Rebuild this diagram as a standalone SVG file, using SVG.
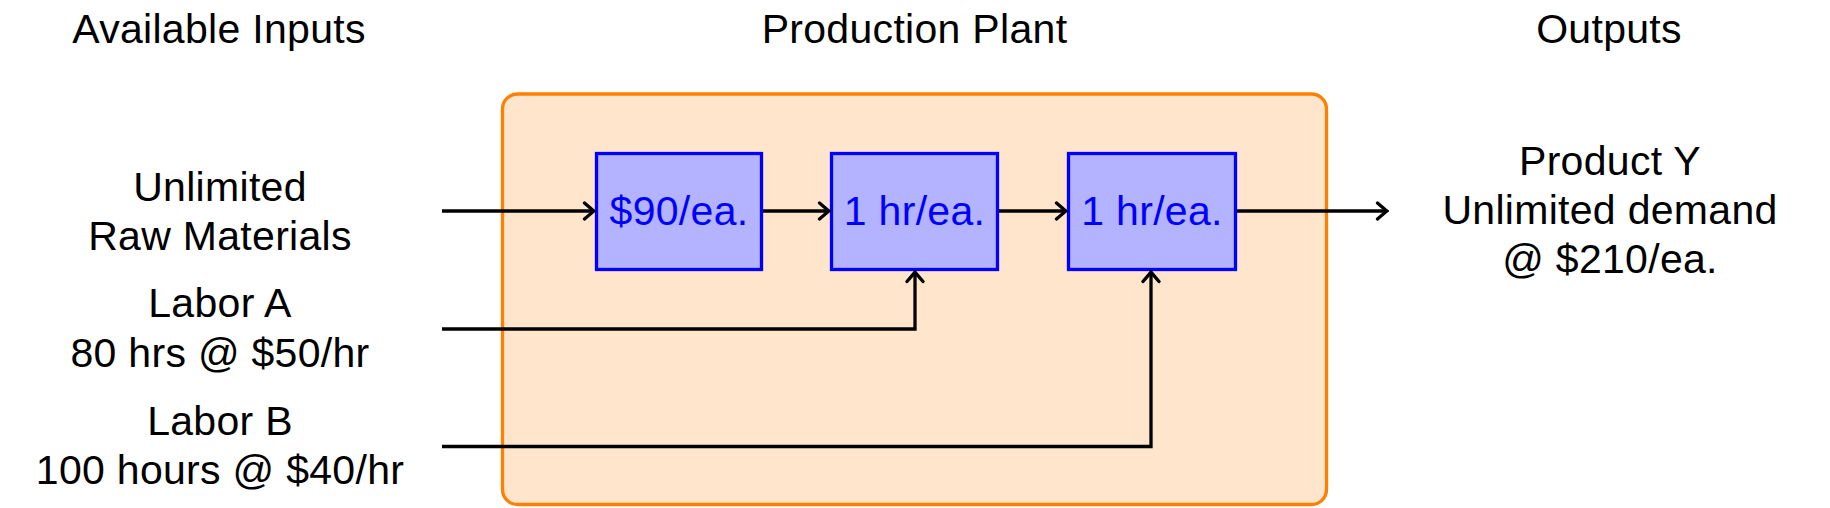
<svg xmlns="http://www.w3.org/2000/svg" width="1830" height="508" viewBox="0 0 1830 508">
<style>
text{font-family:"Liberation Sans",Arial,sans-serif;font-size:41px;letter-spacing:0.3px;text-anchor:middle;fill:#000}
.box rect{fill:#B3B3FF;stroke:#0000FF;stroke-width:3.3}
.box text{fill:#0000FF}
.conn path{fill:none;stroke:#000;stroke-width:3.3}
</style>
<defs>
<marker id="to" markerUnits="userSpaceOnUse" viewBox="-12 -11 14 22" markerWidth="14" markerHeight="22" refX="0" refY="0" orient="auto">
<path d="M-9.5,-8 Q-2,-1.5 0,0 Q-2,1.5 -9.5,8" fill="none" stroke="#000" stroke-width="3.3" stroke-linecap="round"/>
</marker>
</defs>
<rect id="plant" x="502.5" y="94" width="824" height="410.5" rx="15" fill="#FFE5CC" stroke="#FF8000" stroke-width="3.3"/>
<g id="titles">
<text x="219" y="43">Available Inputs</text>
<text x="914.5" y="43">Production Plant</text>
<text x="1609" y="43">Outputs</text>
</g>
<g id="in-raw"><text x="220" y="201">Unlimited</text><text x="220" y="250">Raw Materials</text></g>
<g id="in-laborA"><text x="220" y="317">Labor A</text><text x="220" y="366.5">80 hrs @ $50/hr</text></g>
<g id="in-laborB"><text x="220" y="435">Labor B</text><text x="220" y="484">100 hours @ $40/hr</text></g>
<g id="out"><text x="1610" y="174.5">Product Y</text><text x="1610" y="223.5">Unlimited demand</text><text x="1610" y="272.5">@ $210/ea.</text></g>
<g id="box1" class="box"><rect x="596.5" y="153.5" width="165" height="116"/><text x="679" y="225">$90/ea.</text></g>
<g id="box2" class="box"><rect x="831.5" y="153.5" width="166" height="116"/><text x="914.5" y="225">1 hr/ea.</text></g>
<g id="box3" class="box"><rect x="1068.5" y="153.5" width="167" height="116"/><text x="1152" y="225">1 hr/ea.</text></g>
<g id="connectors" class="conn">
<path d="M442,211 H594" marker-end="url(#to)"/>
<path d="M763,211 H829" marker-end="url(#to)"/>
<path d="M999,211 H1066" marker-end="url(#to)"/>
<path d="M1237,211 H1387" marker-end="url(#to)"/>
<path d="M442,329 H915 V272" marker-end="url(#to)"/>
<path d="M442,446.5 H1151 V272" marker-end="url(#to)"/>
</g>
</svg>
